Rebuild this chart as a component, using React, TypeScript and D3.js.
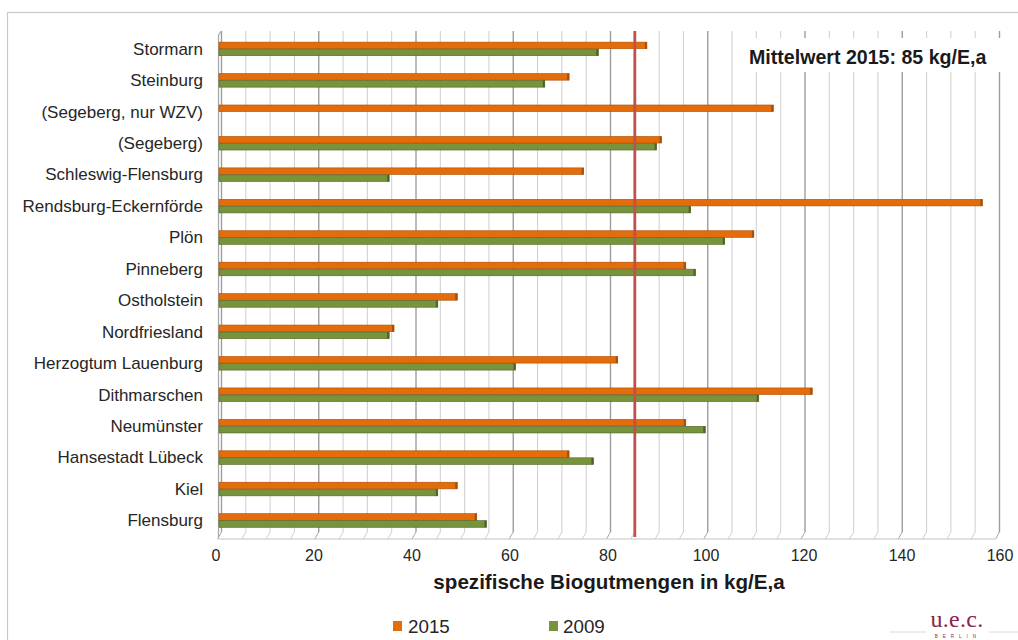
import React from "react";
import * as d3 from "d3";

// Specific organic-waste amounts per district, Schleswig-Holstein
const categories = [
  "Stormarn",
  "Steinburg",
  "(Segeberg, nur WZV)",
  "(Segeberg)",
  "Schleswig-Flensburg",
  "Rendsburg-Eckernförde",
  "Plön",
  "Pinneberg",
  "Ostholstein",
  "Nordfriesland",
  "Herzogtum Lauenburg",
  "Dithmarschen",
  "Neumünster",
  "Hansestadt Lübeck",
  "Kiel",
  "Flensburg",
];
const values2015: number[] = [88, 72, 114, 91, 75, 157, 110, 96, 49, 36, 82, 122, 96, 72, 49, 53];
const values2009: (number | null)[] = [78, 67, null, 90, 35, 97, 104, 98, 45, 35, 61, 111, 100, 77, 45, 55];
const xTicks = [0, 20, 40, 60, 80, 100, 120, 140, 160];
const minorStep = 5;
const mean2015 = 85;
const seriesNames = ["2015", "2009"];
const meanLabel = "Mittelwert 2015: 85 kg/E,a";
const axisTitle = "spezifische Biogutmengen in kg/E,a";

const W = 1018;
const H = 640;
const ORANGE = "#E46C0A";
const ORANGE_DARK = "#A94E06";
const GREEN = "#77933C";
const GREEN_DARK = "#4F6327";
const FONT = "'Liberation Sans', Arial, sans-serif";

export default function App() {
  const plotTop = 31;
  const plotBottom = 532;
  const depth = 4; // 3D floor offset

  const x = d3.scaleLinear().domain([0, 160]).range([221.5, 999.5]);
  const xFront = d3.scaleLinear().domain([0, 160]).range([216, 1000]);
  const y = d3.scaleBand<string>().domain(categories).range([33, 536]);

  const minorTicks = d3.range(0, 160 + minorStep, minorStep);
  const barH = 6.6;
  const barShift = -2.5;

  return (
    <svg
      width={W}
      height={H}
      style={{ position: "absolute", left: 0, top: 0, background: "#fff" }}
      fontFamily={FONT}
    >
      <rect x={0} y={0} width={W} height={H} fill="#fff" />
      {/* outer frame */}
      <rect x={7.5} y={12.5} width={1030} height={700} fill="none" stroke="#c8c8c8" strokeWidth={1.2} />

      {/* back-wall gridlines */}
      <g>
        {minorTicks.map((t) => {
          const major = t % 20 === 0;
          return (
            <g key={t}>
              <line
                x1={x(t)}
                x2={x(t)}
                y1={plotTop}
                y2={plotBottom}
                stroke={major ? "#9e9e9e" : "#d2d2d2"}
                strokeWidth={major ? 1.4 : 1.1}
              />
              <line
                x1={x(t)}
                x2={x(t) - depth}
                y1={plotBottom}
                y2={plotBottom + 7}
                stroke={major ? "#a6a6a6" : "#cfcfcf"}
                strokeWidth={1}
              />
            </g>
          );
        })}
        {/* floor front edge and left wall */}
        <line x1={x(0) - depth} x2={x(160) - depth} y1={plotBottom + 7} y2={plotBottom + 7} stroke="#c4c4c4" strokeWidth={1} />
        <line x1={x(0) - 3} x2={x(0) - 3} y1={plotTop + 4} y2={plotBottom + 5} stroke="#a6a6a6" strokeWidth={1.2} />
        <line x1={x(0) - 3} x2={x(0)} y1={plotTop + 4} y2={plotTop} stroke="#a6a6a6" strokeWidth={1.2} />
      </g>

      {/* mean label box hides gridlines behind it */}
      <rect x={745} y={38} width={260} height={34} fill="#fff" />
      <text x={749} y={63.5} fontSize={19.6} fontWeight="bold" fill="#1a1a1a">
        {meanLabel}
      </text>

      {/* bars */}
      <g transform={`translate(${barShift},0)`}>
        {categories.map((c, i) => {
          const cy = (y(c) as number) + y.bandwidth() / 2;
          const v15 = values2015[i];
          const v09 = values2009[i];
          return (
            <g key={c}>
              <rect
                x={x(0)}
                y={cy - barH}
                width={x(v15) - x(0)}
                height={barH}
                fill={ORANGE}
                stroke={ORANGE_DARK}
                strokeWidth={0.6}
              />
              <rect x={x(v15) - 2} y={cy - barH} width={2} height={barH} fill={ORANGE_DARK} />
              {v09 !== null && (
                <>
                  <rect
                    x={x(0)}
                    y={cy + 0.4}
                    width={x(v09) - x(0)}
                    height={barH}
                    fill={GREEN}
                    stroke={GREEN_DARK}
                    strokeWidth={0.6}
                  />
                  <rect x={x(v09) - 2} y={cy + 0.4} width={2} height={barH} fill={GREEN_DARK} />
                </>
              )}
            </g>
          );
        })}
      </g>

      {/* mean line */}
      <line
        x1={x(mean2015)}
        x2={x(mean2015)}
        y1={plotTop}
        y2={plotBottom + 5}
        stroke="#C0504D"
        strokeWidth={2.8}
      />

      {/* category labels */}
      {categories.map((c) => (
        <text
          key={c}
          x={203}
          y={(y(c) as number) + y.bandwidth() / 2 + 6}
          textAnchor="end"
          fontSize={17}
          fill="#262626"
        >
          {c}
        </text>
      ))}

      {/* x tick labels */}
      {xTicks.map((t) => (
        <text key={t} x={xFront(t)} y={561} textAnchor="middle" fontSize={16} fill="#262626">
          {t}
        </text>
      ))}

      {/* axis title */}
      <text x={609} y={589} textAnchor="middle" fontSize={20.6} fontWeight="bold" fill="#1a1a1a">
        {axisTitle}
      </text>

      {/* legend */}
      <g>
        <rect x={393} y={621} width={9} height={10} fill={ORANGE} />
        <text x={408} y={633} fontSize={18.8} fill="#262626">
          {seriesNames[0]}
        </text>
        <rect x={549} y={621} width={9} height={10} fill={GREEN} />
        <text x={563} y={633} fontSize={18.8} fill="#262626">
          {seriesNames[1]}
        </text>
      </g>

      {/* u.e.c. logo */}
      <g>
        <line x1={890} x2={926} y1={632} y2={632} stroke="#dcdcdc" strokeWidth={1} />
        <line x1={989} x2={1018} y1={632} y2={632} stroke="#dcdcdc" strokeWidth={1} />
        <text x={957} y={627} textAnchor="middle" fontSize={24} fill="#8C2449" fontFamily="'Liberation Serif', 'DejaVu Serif', serif" letterSpacing={0.3}>
          u.e.c.
        </text>
        <text x={958} y={638} textAnchor="middle" fontSize={4.5} fill="#8C2449" letterSpacing={5}>
          BERLIN
        </text>
      </g>
    </svg>
  );
}
